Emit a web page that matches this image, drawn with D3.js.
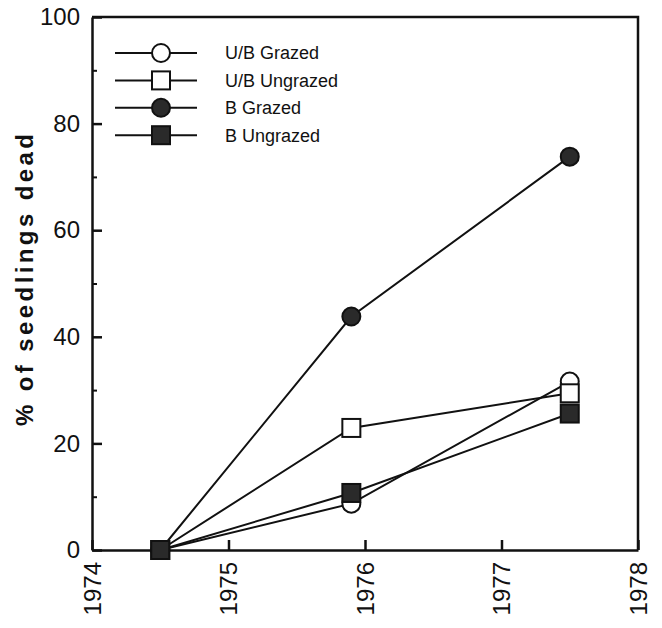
<!DOCTYPE html>
<html>
<head>
<meta charset="utf-8">
<script src="https://cdn.jsdelivr.net/npm/d3@7"></script>
<style>
  body { margin: 0; background: #fff; }
  svg { font-family: "Liberation Sans", Arial, Helvetica, sans-serif; }
  .line { fill: none; stroke: #111; stroke-width: 2px; }
  .axis path, .axis line { stroke: #111; stroke-width: 2.5px; }
  .minor line { stroke: #111; stroke-width: 2px; }
  .axis text { font-size: 24px; fill: #111; }
</style>
</head>
<body>
<script>
// data
const years = [1974.5, 1975.9, 1977.5];
const seriesNames = ['U/B Grazed', 'U/B Ungrazed', 'B Grazed', 'B Ungrazed'];
const ubGrazed = [0, 8.7, 31.6];
const ubUngrazed = [0, 22.9, 29.4];
const bGrazed = [0, 43.8, 73.8];
const bUngrazed = [0, 10.7, 25.6];
const xTicks = [1974, 1975, 1976, 1977, 1978];
const yTicks = [0, 20, 40, 60, 80, 100];
const yMinorTicks = [10, 30, 50, 70, 90];

const config = {
  margin: [17, 24, 78, 92],
  width: 662,
  height: 628
};

const rw = config.width - config.margin[1] - config.margin[3];
const rh = config.height - config.margin[0] - config.margin[2];

const svg = d3.select('body')
  .append('svg')
  .attr('width', config.width)
  .attr('height', config.height)
  .append('g')
  .attr('transform', `translate(${config.margin[3]}, ${config.margin[0]})`);

const x = d3.scaleLinear().domain([1974, 1978]).range([0, rw]);
const y = d3.scaleLinear().domain([0, 100]).range([rh, 0]);

const series = [
  { name: seriesNames[0], values: ubGrazed, shape: 'circle', fill: '#fff' },
  { name: seriesNames[1], values: ubUngrazed, shape: 'square', fill: '#fff' },
  { name: seriesNames[2], values: bGrazed, shape: 'circle', fill: '#2a2a2a' },
  { name: seriesNames[3], values: bUngrazed, shape: 'square', fill: '#2a2a2a' }
];

// frame (top & right)
svg.append('path')
  .attr('d', `M0,${y(100)} H${x(1978)} V${y(0)}`)
  .attr('fill', 'none')
  .attr('stroke', '#111')
  .attr('stroke-width', 2.5);

// y axis
svg.append('g')
  .attr('class', 'axis')
  .call(d3.axisLeft(y).tickValues(yTicks).tickSizeInner(-10).tickSizeOuter(0).tickPadding(12));

svg.append('g')
  .attr('class', 'minor')
  .call(d3.axisLeft(y).tickValues(yMinorTicks).tickSizeInner(-5).tickSizeOuter(0).tickFormat(''))
  .call(g => g.select('.domain').remove());

// x axis
svg.append('g')
  .attr('class', 'axis')
  .attr('transform', `translate(0,${rh})`)
  .call(d3.axisBottom(x).tickValues(xTicks).tickFormat(d3.format('d')).tickSizeInner(-10).tickSizeOuter(0))
  .selectAll('text')
  .attr('transform', 'rotate(-90)')
  .attr('x', -12)
  .attr('y', 0)
  .attr('dy', '0.35em')
  .style('text-anchor', 'end');

// y label
svg.append('text')
  .attr('transform', `translate(${25 - config.margin[3]}, ${280 - config.margin[0]}) rotate(-90)`)
  .attr('text-anchor', 'middle')
  .attr('dy', '0.35em')
  .attr('textLength', 292)
  .attr('lengthAdjust', 'spacing')
  .style('font-size', '24px')
  .style('font-weight', 'bold')
  .style('fill', '#111')
  .text('% of seedlings dead');

const line = d3.line()
  .x((d, i) => x(years[i]))
  .y(d => y(d));

// lines first
svg.selectAll('.line')
  .data(series)
  .enter()
  .append('path')
  .attr('class', 'line')
  .attr('d', d => line(d.values));

function drawMarker(g, shape, fill, cx, cy) {
  if (shape === 'circle') {
    g.append('circle')
      .attr('cx', cx).attr('cy', cy).attr('r', 9)
      .attr('fill', fill).attr('stroke', '#111').attr('stroke-width', 2);
  } else {
    g.append('rect')
      .attr('x', cx - 9).attr('y', cy - 9).attr('width', 18).attr('height', 18)
      .attr('fill', fill).attr('stroke', '#111').attr('stroke-width', 2);
  }
}

// markers
series.forEach(s => {
  const g = svg.append('g');
  s.values.forEach((v, i) => drawMarker(g, s.shape, s.fill, x(years[i]), y(v)));
});

// legend
const legend = svg.append('g')
  .attr('transform', `translate(${115 - config.margin[3]}, ${53 - config.margin[0]})`);

series.forEach((s, i) => {
  const row = legend.append('g').attr('transform', `translate(0, ${i * 27.4})`);
  row.append('line')
    .attr('x1', 0).attr('x2', 82)
    .attr('stroke', '#111').attr('stroke-width', 2);
  drawMarker(row, s.shape, s.fill, 46, 0);
  row.append('text')
    .attr('x', 110)
    .attr('dy', '0.35em')
    .style('font-size', '18px')
    .style('fill', '#111')
    .text(s.name);
});
</script>
</body>
</html>
